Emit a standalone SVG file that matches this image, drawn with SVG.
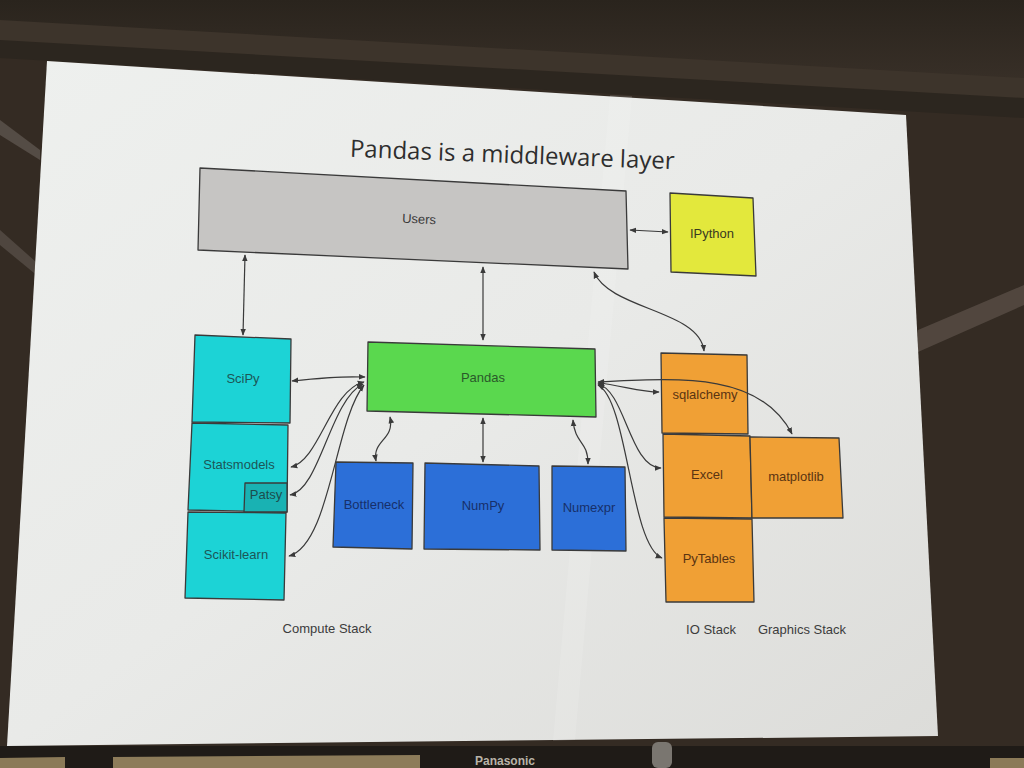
<svg xmlns="http://www.w3.org/2000/svg" width="1024" height="768" viewBox="0 0 1024 768">
<defs>
<linearGradient id="slideG" x1="0" y1="0" x2="1" y2="1">
<stop offset="0" stop-color="#eef0ee"/>
<stop offset="0.5" stop-color="#e9eae8"/>
<stop offset="1" stop-color="#dcdcd9"/>
</linearGradient>
<linearGradient id="topG" x1="0" y1="0" x2="0" y2="1">
<stop offset="0" stop-color="#2a241d"/>
<stop offset="1" stop-color="#3a3129"/>
</linearGradient>
<marker id="ah" viewBox="0 0 10 10" refX="9" refY="5" markerWidth="7" markerHeight="7" orient="auto-start-reverse" markerUnits="userSpaceOnUse">
<path d="M0,1 L10,5 L0,9 z" fill="#3a3a3a"/>
</marker>
<style>
.box{stroke:#3a3a3a;stroke-width:1.3;stroke-linejoin:round}
.users{fill:#c6c5c3}
.ipy{fill:#e3e83c}
.cyan{fill:#1cd3d6}
.patsy{fill:#19b2b3}
.green{fill:#5ad84e}
.blue{fill:#2c6fd8}
.orange{fill:#f0a035}
.lbl{font-family:"Liberation Sans",Arial,sans-serif;font-size:13px;text-anchor:middle;dominant-baseline:middle}
.cap{font-family:"Liberation Sans",Arial,sans-serif;font-size:13px;fill:#3c3c3c;text-anchor:middle}
.conn path{fill:none;stroke:#3a3a3a;stroke-width:1.2;marker-start:url(#ah);marker-end:url(#ah)}
</style>
</defs>
<!-- surroundings -->
<rect width="1024" height="768" fill="#342b23"/>
<polygon points="0,0 1024,0 1024,95 0,50" fill="url(#topG)"/>
<polygon points="0,20 1024,78 1024,100 0,42" fill="#3d342b"/>
<polygon points="0,40 1024,98 1024,118 0,58" fill="#2c261f"/>
<polygon points="0,120 40,150 40,160 0,135" fill="#6a625c" opacity="0.6"/>
<polygon points="0,230 45,270 45,282 0,245" fill="#6a625c" opacity="0.5"/>
<polygon points="918,330 1024,285 1024,305 918,352" fill="#6e625a" opacity="0.5"/>
<rect x="0" y="746" width="1024" height="22" fill="#1f1b17"/>
<polygon points="0,758 65,757 65,768 0,768" fill="#8b7a58"/>
<polygon points="113,757 420,755 420,768 113,768" fill="#8d7c5a"/>
<polygon points="990,758 1024,758 1024,768 990,768" fill="#8b7a58"/>
<rect x="652" y="742" width="20" height="26" rx="6" fill="#7a7670"/>
<text x="505" y="765" font-family="Liberation Sans,Arial,sans-serif" font-size="12" font-weight="bold" fill="#b9b3a8" text-anchor="middle">Panasonic</text>
<!-- slide -->
<polygon points="47,61 906,115 938,736 7,746" fill="url(#slideG)"/>
<polygon points="610,95 632,96 575,740 553,741" fill="#ffffff" opacity="0.12"/>
<text x="512" y="163" font-family="'Open Sans','Noto Sans',sans-serif" font-size="24" fill="#2e2e2e" text-anchor="middle" transform="rotate(2.2 512 163)">Pandas is a middleware layer</text>
<!-- nodes -->
<g id="users"><polygon class="box users" points="200,168 626,191 628,269 198,250"/><text class="lbl" x="419" y="220" fill="#3a3a3a" transform="rotate(2.5 419 220)">Users</text></g>
<g id="ipython"><polygon class="box ipy" points="670,193 753,198 756,276 671,272"/><text class="lbl" x="712" y="235" fill="#3a3a20">IPython</text></g>
<g id="scipy"><polygon class="box cyan" points="195,335 291,339 290,423 192,422"/><text class="lbl" x="243" y="380" fill="#1d5656">SciPy</text></g>
<g id="statsmodels"><polygon class="box cyan" points="192,423 288,425 287,512 188,510"/><text class="lbl" x="239" y="466" fill="#1d5656">Statsmodels</text></g>
<g id="patsy"><polygon class="box patsy" points="245,483 287,483 287,512 244,512"/><text class="lbl" x="266" y="496" fill="#1d4d4d">Patsy</text></g>
<g id="scikit-learn"><polygon class="box cyan" points="188,512 286,513 284,600 185,598"/><text class="lbl" x="236" y="556" fill="#1d5656">Scikit-learn</text></g>
<g id="pandas"><polygon class="box green" points="368,342 595,349 596,417 367,411"/><text class="lbl" x="483" y="379" fill="#2a5a2a">Pandas</text></g>
<g id="bottleneck"><polygon class="box blue" points="336,462 413,463 412,549 333,547"/><text class="lbl" x="374" y="506" fill="#17306a">Bottleneck</text></g>
<g id="numpy"><polygon class="box blue" points="425,463 539,466 540,550 424,549"/><text class="lbl" x="483" y="507" fill="#17306a">NumPy</text></g>
<g id="numexpr"><polygon class="box blue" points="552,466 625,467 626,551 552,550"/><text class="lbl" x="589" y="509" fill="#17306a">Numexpr</text></g>
<g id="sqlalchemy"><polygon class="box orange" points="661,353 747,355 748,434 662,433"/><text class="lbl" x="705" y="396" fill="#5a3412">sqlalchemy</text></g>
<g id="excel"><polygon class="box orange" points="663,434 750,436 752,518 664,517"/><text class="lbl" x="707" y="476" fill="#5a3412">Excel</text></g>
<g id="matplotlib"><polygon class="box orange" points="750,437 839,438 843,518 752,518"/><text class="lbl" x="796" y="478" fill="#5a3412">matplotlib</text></g>
<g id="pytables"><polygon class="box orange" points="664,518 752,519 754,602 666,602"/><text class="lbl" x="709" y="560" fill="#5a3412">PyTables</text></g>
<!-- connectors -->
<g id="connectors" class="conn">
<path d="M630,230 L668,232"/>
<path d="M245,255 L243,335"/>
<path d="M483,267 L483,340"/>
<path d="M594,272 C610,310 700,310 704,351"/>
<path d="M292,381 C320,378 340,376 365,377"/>
<path d="M364,382 C330,390 320,460 291,467"/>
<path d="M363,384 C330,400 320,490 290,495"/>
<path d="M364,385 C335,420 330,545 289,556"/>
<path d="M390,417 C395,440 372,440 376,461"/>
<path d="M483,418 L483,462"/>
<path d="M573,420 C575,445 588,440 588,464"/>
<path d="M598,383 C620,385 640,392 659,392"/>
<path d="M598,382 C680,378 760,372 792,434"/>
<path d="M598,384 C625,390 630,468 661,468"/>
<path d="M598,385 C628,400 630,545 662,558"/>
</g>
<!-- stack captions -->
<text class="cap" x="327" y="633">Compute Stack</text>
<text class="cap" x="711" y="634">IO Stack</text>
<text class="cap" x="802" y="634">Graphics Stack</text>
</svg>
